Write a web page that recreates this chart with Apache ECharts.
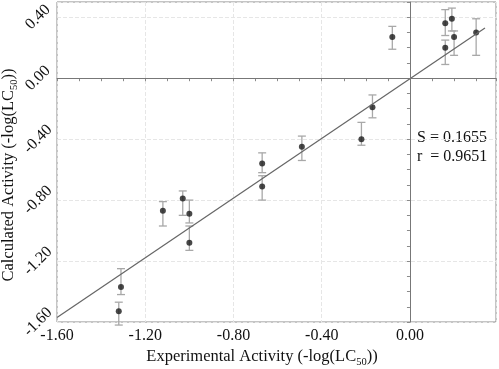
<!DOCTYPE html>
<html><head><meta charset="utf-8">
<script src="https://cdn.jsdelivr.net/npm/echarts@6/dist/echarts.min.js"></script>
<style>html,body{margin:0;padding:0;background:#fff}#c{width:499px;height:369px}</style>
</head><body><div id="c"></div>
<script>
// experimental (x), calculated (y), error bar low/high
var expX  = [-0.08, 0.16, 0.19, 0.20, 0.16, 0.30, -0.17, -0.22, -0.49, -0.67, -0.67, -1.12, -1.03, -1.00, -1.00, -1.31, -1.32];
var calcY = [0.27, 0.36, 0.39, 0.27, 0.20, 0.30, -0.19, -0.40, -0.45, -0.56, -0.71, -0.87, -0.79, -0.89, -1.08, -1.37, -1.53];
var errLo = [0.19, 0.28, 0.31, 0.15, 0.09, 0.15, -0.26, -0.44, -0.54, -0.62, -0.80, -0.97, -0.90, -0.95, -1.13, -1.42, -1.62];
var errHi = [0.34, 0.45, 0.46, 0.31, 0.25, 0.39, -0.11, -0.29, -0.38, -0.49, -0.64, -0.81, -0.74, -0.80, -0.97, -1.25, -1.47];
var fitLine = [[-1.60, -1.57], [0.34, 0.33]];
var xTicks = ['-1.60', '-1.20', '-0.80', '-0.40', '0.00'];
var yTicks = ['-1.60', '-1.20', '-0.80', '-0.40', '0.00', '0.40'];
var xTitle = 'Experimental Activity (-log(LC{sub|50}))';
var yTitle = 'Calculated Activity (-log(LC{sub|50}))';
var statText = ['S = 0.1655', 'r  = 0.9651'];

var FONT = 'Liberation Serif';
function fmt(list){
  return function(v){
    var s = v.toFixed(2);
    if (s === '-0.00') s = '0.00';
    return list.indexOf(s) >= 0 ? s : '';
  };
}
var chart = echarts.init(document.getElementById('c'), null, {renderer: 'canvas'});
var errData = expX.map(function(x, i){ return [x, errLo[i], errHi[i]]; });
var pts = expX.map(function(x, i){ return [x, calcY[i]]; });
var titleRich = {sub: {fontFamily: FONT, fontSize: 10.5, fill: '#111', padding: [10, 0, 0, 0]}};
chart.setOption({
  animation: false,
  backgroundColor: '#fff',
  grid: {left: 57, top: 2, right: 3, bottom: 47, show: true, borderColor: '#8a8a8a', borderWidth: 1,
    containLabel: false, outerBoundsMode: 'none'},
  xAxis: {
    type: 'value', min: -1.6, max: 0.39, interval: 0.4,
    axisLine: {show: true, lineStyle: {color: '#8a8a8a'}},
    axisTick: {show: true, length: 3, lineStyle: {color: '#8a8a8a'}},
    minorTick: {show: true, splitNumber: 4, length: 3, lineStyle: {color: '#8a8a8a'}},
    splitLine: {show: true, lineStyle: {color: '#e6e6e6', type: 'dashed'}},
    axisLabel: {formatter: fmt(xTicks), color: '#111', fontFamily: FONT, fontSize: 16, margin: 6, showMaxLabel: false}
  },
  yAxis: {
    type: 'value', min: -1.6, max: 0.5, interval: 0.4,
    axisLine: {show: true, lineStyle: {color: '#8a8a8a'}},
    axisTick: {show: true, length: 3, lineStyle: {color: '#8a8a8a'}},
    minorTick: {show: true, splitNumber: 4, length: 3, lineStyle: {color: '#8a8a8a'}},
    splitLine: {show: true, lineStyle: {color: '#e6e6e6', type: 'dashed'}},
    axisLabel: {formatter: fmt(yTicks), rotate: 45, align: 'center', verticalAlign: 'middle',
      color: '#111', fontFamily: FONT, fontSize: 16, margin: 19, showMaxLabel: false}
  },
  graphic: [
    {type: 'text', x: 262, y: 357, style: {text: xTitle, rich: titleRich, fontFamily: FONT, fontSize: 16.5,
      fill: '#111', align: 'center', verticalAlign: 'middle'}},
    {type: 'text', x: 9, y: 175, rotation: Math.PI / 2, style: {text: yTitle, rich: titleRich, fontFamily: FONT, fontSize: 16.5,
      fill: '#111', align: 'center', verticalAlign: 'middle'}},
    {type: 'text', left: 417, top: 130, style: {text: statText[0], font: '16px "Liberation Serif"', fill: '#111'}},
    {type: 'text', left: 417, top: 149, style: {text: statText[1], font: '16px "Liberation Serif"', fill: '#111'}}
  ],
  series: [
    {
      type: 'line', data: [], silent: true,
      markLine: {symbol: 'none', silent: true, label: {show: false},
        lineStyle: {color: '#777', width: 1, type: 'solid'},
        data: [{xAxis: 0}, {yAxis: 0}]}
    },
    {
      type: 'line', data: fitLine, showSymbol: false, silent: true,
      lineStyle: {color: '#666', width: 1.2}
    },
    {
      type: 'custom', data: errData, silent: true,
      renderItem: function(params, api){
        var x = api.value(0);
        var lo = api.coord([x, api.value(1)]);
        var hi = api.coord([x, api.value(2)]);
        var w = 4;
        var st = {stroke: '#a8a8a8', lineWidth: 1.3};
        return {type: 'group', children: [
          {type: 'line', shape: {x1: lo[0], y1: lo[1], x2: hi[0], y2: hi[1]}, style: st},
          {type: 'line', shape: {x1: lo[0]-w, y1: lo[1], x2: lo[0]+w, y2: lo[1]}, style: st},
          {type: 'line', shape: {x1: hi[0]-w, y1: hi[1], x2: hi[0]+w, y2: hi[1]}, style: st}
        ]};
      },
      encode: {x: 0, y: [1, 2]}
    },
    {
      type: 'scatter', data: pts, symbolSize: 6, silent: true,
      itemStyle: {color: '#1a1a1a'}
    }
  ]
});
</script></body></html>
